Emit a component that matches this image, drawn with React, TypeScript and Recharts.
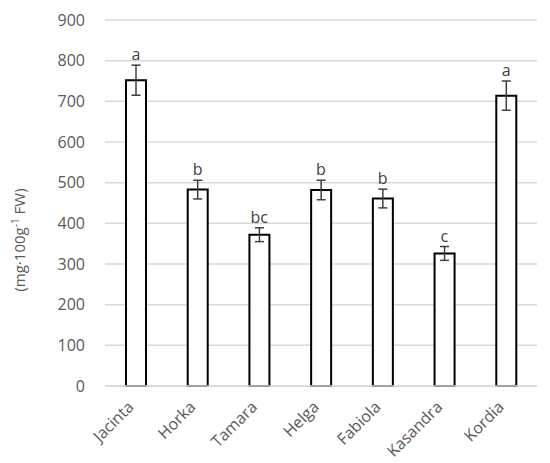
import React from 'react';
import { ComposedChart, Bar, Line, ErrorBar, LabelList, XAxis, YAxis, CartesianGrid } from 'recharts';

const cultivars = ['Jacinta', 'Horka', 'Tamara', 'Helga', 'Fabiola', 'Kasandra', 'Kordia'];
const means = [752, 483, 372, 482, 461, 326, 714];
const errors = [37, 23, 17, 24, 23, 17, 36];
const letters = ['a', 'b', 'bc', 'b', 'b', 'c', 'a'];
const yTicks = [0, 100, 200, 300, 400, 500, 600, 700, 800, 900];

const data = cultivars.map((name, i) => ({
  name,
  value: means[i],
  err: errors[i],
  top: means[i] + errors[i],
  letter: letters[i],
}));

const FONT = '"Open Sans", sans-serif';
const TEXT = '#595959';

// rotated category names, anchored at their end just left of the bar centre
const CategoryTick = (props: any) => {
  const { x, y, payload } = props;
  const ax = x - 1;
  const ay = y + 14;
  return (
    <text
      x={ax}
      y={ay}
      transform={`rotate(-45, ${ax}, ${ay})`}
      textAnchor="end"
      fill={TEXT}
      fontSize={16}
      fontFamily={FONT}
    >
      {payload.value}
    </text>
  );
};

const LetterLabel = (props: any) => {
  const { x, y, width, value } = props;
  return (
    <text x={x + (width || 0) / 2} y={y - 5} textAnchor="middle" fill="#404040" fontSize={16} fontFamily={FONT}>
      {value}
    </text>
  );
};

const YLabel = () => (
  <text
    x={25}
    y={240}
    transform="rotate(-90, 25, 240)"
    textAnchor="middle"
    fill={TEXT}
    fontSize={15}
    fontFamily={FONT}
  >
    (mg·100g<tspan dy={-6} fontSize={10}>-1</tspan>
    <tspan dy={6}> FW)</tspan>
  </text>
);

export default function App() {
  return (
    <div style={{ position: 'absolute', left: 0, top: 0, width: 550, height: 463, background: '#fff' }}>
      <ComposedChart width={550} height={463} data={data} margin={{ top: 20, right: 13, bottom: 0, left: 0 }}>
        <CartesianGrid vertical={false} stroke="#d9d9d9" strokeWidth={1.5} />
        <XAxis
          dataKey="name"
          height={77}
          axisLine={{ stroke: '#d9d9d9', strokeWidth: 1.5 }}
          tickLine={false}
          interval={0}
          tick={<CategoryTick />}
        />
        <YAxis
          width={105}
          domain={[0, 900]}
          ticks={yTicks}
          axisLine={false}
          tickLine={false}
          tickMargin={14}
          tick={{ fill: TEXT, fontSize: 16, fontFamily: FONT }}
        />
        <Bar dataKey="value" barSize={20} fill="#ffffff" stroke="#000000" strokeWidth={2} isAnimationActive={false}>
          <ErrorBar dataKey="err" width={4.5} stroke="#404040" strokeWidth={1.5} />
        </Bar>
        <Line dataKey="top" stroke="none" dot={false} activeDot={false} isAnimationActive={false}>
          <LabelList dataKey="letter" content={<LetterLabel />} />
        </Line>
      </ComposedChart>
      <svg width={550} height={463} style={{ position: 'absolute', left: 0, top: 0, pointerEvents: 'none' }}>
        <YLabel />
      </svg>
    </div>
  );
}
